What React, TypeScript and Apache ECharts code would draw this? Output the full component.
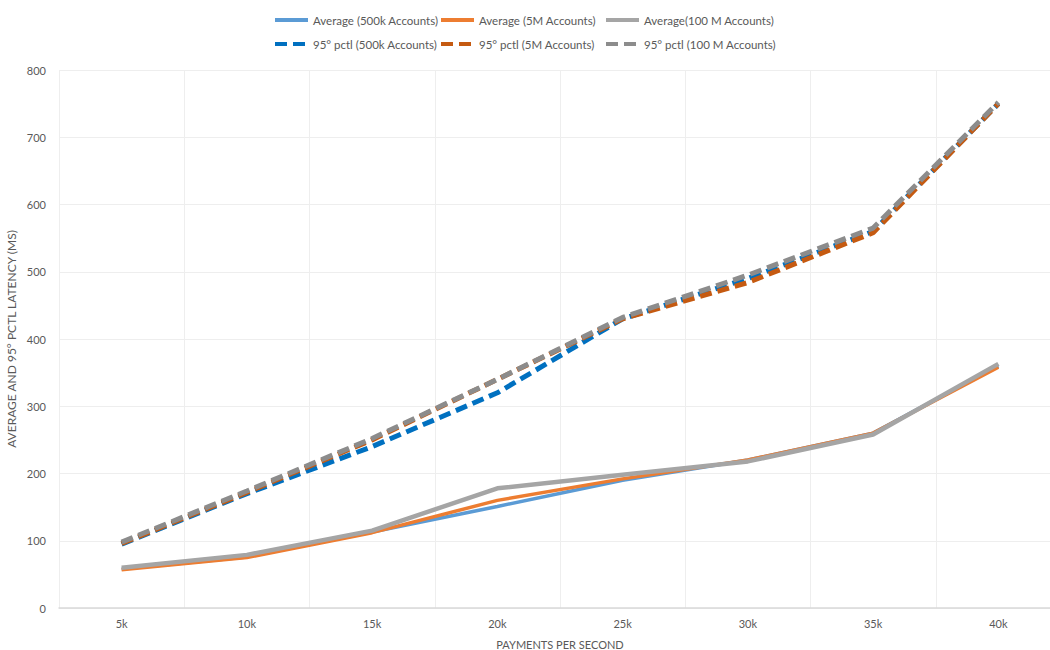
import React, { useEffect, useRef } from "react";
import * as echarts from "echarts";

const categories = ["5k", "10k", "15k", "20k", "25k", "30k", "35k", "40k"];
const avg500k = [58, 76, 113, 151, 190, 220, 260, 360];
const avg5M = [57, 75, 112, 160, 192, 220, 260, 358];
const avg100M = [60, 79, 115, 178, 198, 218, 258, 363];
const p95_500k = [95, 170, 240, 320, 430, 490, 560, 750];
const p95_5M = [96, 172, 250, 340, 430, 484, 558, 750];
const p95_100M = [98, 174, 252, 340, 432, 495, 565, 752];

const names = [
  "Average (500k Accounts)",
  "Average (5M Accounts)",
  "Average(100 M Accounts)",
  "95° pctl (500k Accounts)",
  "95° pctl (5M Accounts)",
  "95° pctl (100 M Accounts)",
];

const FONT = "Lato, 'Open Sans', sans-serif";
const TXT = "#595959";

export default function App() {
  const ref = useRef<HTMLDivElement>(null);
  useEffect(() => {
    if (!ref.current) return;
    const chart = echarts.init(ref.current, null, { renderer: "svg" });
    const mk = (name: string, data: number[], color: string, width: number, dashed: boolean, z: number) => ({
      name,
      type: "line",
      data,
      symbol: "none",
      showSymbol: false,
      z,
      lineStyle: dashed
        ? { color, width, type: [12, 6] }
        : { color, width },
      itemStyle: { color },
    });
    const legendLefts = [273, 439, 604];
    const legends = names.map((n, i) => ({
      data: [n],
      left: legendLefts[i % 3],
      top: i < 3 ? 14 : 38,
      padding: 0,
      itemWidth: 33,
      itemHeight: 12,
      itemGap: 4,
      itemStyle: { opacity: 0 },
      lineStyle: { width: 4 },
      textStyle: { color: TXT, fontSize: 11.5, fontFamily: FONT },
    }));
    chart.setOption({
      animation: false,
      textStyle: { fontFamily: FONT },
      legend: legends,
      grid: { left: 59, top: 70, width: 1002, height: 538, containLabel: false, outerBoundsMode: "none" },
      xAxis: {
        type: "category",
        data: categories,
        boundaryGap: true,
        name: "PAYMENTS PER SECOND",
        nameLocation: "middle",
        nameGap: 31,
        nameMoveOverlap: false,
        nameTextStyle: { color: TXT, fontSize: 11, fontFamily: FONT },
        axisLine: { show: true, lineStyle: { color: "#d9d9d9", width: 1.5 } },
        axisTick: { show: false },
        axisLabel: { color: TXT, fontSize: 11, margin: 10, fontFamily: FONT },
        splitLine: { show: true, lineStyle: { color: "#eeeeee", width: 1 } },
      },
      yAxis: {
        type: "value",
        min: 0,
        max: 800,
        interval: 100,
        name: "AVERAGE AND 95° PCTL LATENCY (MS)",
        nameLocation: "middle",
        nameGap: 42,
        nameMoveOverlap: false,
        nameTextStyle: { color: TXT, fontSize: 12, fontFamily: FONT },
        axisLine: { show: false },
        axisTick: { show: false },
        axisLabel: { color: TXT, fontSize: 11, margin: 13, fontFamily: FONT },
        splitLine: { show: true, lineStyle: { color: "#eeeeee", width: 1 } },
      },
      series: [
        mk(names[0], avg500k, "#5B9BD5", 3.5, false, 2),
        mk(names[1], avg5M, "#ED7D31", 3.5, false, 3),
        mk(names[2], avg100M, "#A5A5A5", 4.5, false, 4),
        mk(names[3], p95_500k, "#0070C0", 5, true, 5),
        mk(names[4], p95_5M, "#C55A11", 5, true, 6),
        mk(names[5], p95_100M, "#8C8C8C", 5, true, 7),
      ],
    });
    return () => chart.dispose();
  }, []);
  return (
    <div
      ref={ref}
      style={{ position: "absolute", left: 0, top: 0, width: 1050, height: 650, overflow: "hidden", background: "#fff" }}
    />
  );
}
